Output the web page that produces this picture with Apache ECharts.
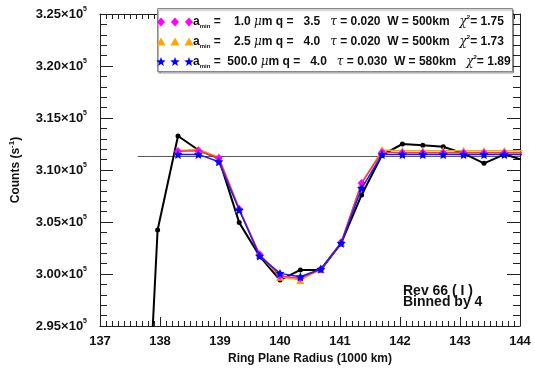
<!DOCTYPE html>
<html>
<head>
<meta charset="utf-8">
<script src="https://cdn.jsdelivr.net/npm/echarts@6/dist/echarts.min.js"></script>
<style>
  html, body { margin: 0; padding: 0; background: #fff; }
  #chart { width: 535px; height: 371px; }
</style>
</head>
<body>
<div id="chart"></div>
<script>
// Ring plane radius of each bin (1000 km)
const radius = [137.62, 137.96, 138.30, 138.64, 138.98, 139.32, 139.66, 140.00, 140.34, 140.68,
                141.02, 141.36, 141.70, 142.04, 142.38, 142.72, 143.06, 143.40, 143.74, 144.08];

// Observed counts, binned by 4
const observed = [265000, 304230, 313270, 311920, 311120, 304940, 301730, 299420, 300390, 300390,
                  302960, 307600, 311440, 312500, 312370, 312240, 311600, 310640, 311510, 310900];

// Model profiles
const modelA = [null, null, 311800, 311850, 311150, 306250, 301900, 299800, 299600, 300450,
                303050, 308750, 311700, 311650, 311650, 311650, 311650, 311650, 311650, 311650];
const modelB = [null, null, 311860, 311990, 311220, 306310, 301830, 299740, 299420, 300450,
                303010, 308720, 311920, 311860, 311860, 311860, 311860, 311860, 311860, 311860];
const modelC = [null, null, 311500, 311500, 310800, 306150, 301730, 300060, 299740, 300480,
                302960, 308240, 311480, 311480, 311480, 311480, 311480, 311480, 311480, 311480];

// Unocculted baseline level
const baselineX = [137.63, 144.0];
const baselineY = [311300, 311300];

// Legend rows: [a_min, q, tau, W, chi2]
const legendRows = [
  ['   1.0', '  3.5', '0.020', '500', '1.75'],
  ['   2.5', '  4.0', '0.020', '500', '1.73'],
  [' 500.0', '  4.0', '0.030', '580', '1.89']
];
const legendColors = ['#ff00ff', '#ffa500', '#0000ff'];

const xMin = 137, xMax = 144, xStep = 1;
const yMin = 295000, yMax = 325000, yStep = 5000;

const STAR = 'path://M0,-10L2.9,-4L9.5,-3.1L4.7,1.5L5.9,8.1L0,5L-5.9,8.1L-4.7,1.5L-9.5,-3.1L-2.9,-4Z';
const FONT = 'Liberation Sans, Arial, Helvetica, sans-serif';

const pairs = (xs, ys) => xs.map((x, i) => [x, ys[i]]);

const chart = echarts.init(document.getElementById('chart'), null, { renderer: 'canvas' });

const tickStyle = { color: '#222', width: 1 };
function xAxisDef(pos, labels) {
  return {
    type: 'value', position: pos, min: xMin, max: xMax, interval: xStep,
    axisLine: { show: true, onZero: false, lineStyle: { color: '#222', width: 1 } },
    axisTick: { show: true, inside: true, length: 9, lineStyle: tickStyle },
    minorTick: { show: true, splitNumber: 10, length: 5, lineStyle: tickStyle },
    splitLine: { show: false },
    axisLabel: labels ? { show: true, color: '#111', fontFamily: FONT, fontWeight: 'bold', fontSize: 13, margin: 9 } : { show: false },
    name: labels ? 'Ring Plane Radius (1000 km)' : '',
    nameLocation: 'middle', nameGap: 26,
    nameTextStyle: { color: '#111', fontFamily: FONT, fontWeight: 'bold', fontSize: 12 }
  };
}
function yAxisDef(pos, labels) {
  return {
    type: 'value', position: pos, min: yMin, max: yMax, interval: yStep,
    axisLine: { show: true, onZero: false, lineStyle: { color: '#222', width: 1 } },
    axisTick: { show: true, inside: true, length: 13, lineStyle: tickStyle },
    minorTick: { show: true, splitNumber: 5, length: 7, lineStyle: tickStyle },
    splitLine: { show: false },
    axisLabel: labels ? {
      show: true, margin: 13,
      formatter: v => '{m|' + (v / 1e5).toFixed(2) + '×10}{s|5}',
      rich: {
        m: { color: '#111', fontFamily: FONT, fontWeight: 'bold', fontSize: 13 },
        s: { color: '#111', fontFamily: FONT, fontWeight: 'bold', fontSize: 7, verticalAlign: 'top', padding: [0, 0, 9, 0] }
      }
    } : { show: false },
    name: labels ? '{t|Counts (s}{s|-1}{t|)}' : '',
    nameLocation: 'middle', nameGap: 76, nameRotate: 90,
    nameTextStyle: {
      rich: {
        t: { color: '#111', fontFamily: FONT, fontWeight: 'bold', fontSize: 12 },
        s: { color: '#111', fontFamily: FONT, fontWeight: 'bold', fontSize: 8, padding: [0, 0, 8, 0] }
      }
    }
  };
}

// Legend box built from text rows
const legendGraphics = [];
legendGraphics.push({
  type: 'rect', left: 157, top: 8, z: 100,
  shape: { width: 355, height: 63 },
  style: { fill: '#fff', stroke: '#888', lineWidth: 1, shadowColor: 'rgba(0,0,0,0.35)', shadowOffsetX: 1, shadowOffsetY: 1.5, shadowBlur: 1 }
});
const symShapes = ['diamond', 'triangle', 'star'];
legendRows.forEach((r, i) => {
  const cy = 22 + i * 20;
  for (let k = 0; k < 3; k++) {
    const cx = 161 + k * 14;
    let el;
    if (symShapes[i] === 'diamond') {
      el = { type: 'polygon', shape: { points: [[cx, cy - 4.5], [cx + 4, cy], [cx, cy + 4.5], [cx - 4, cy]] } };
    } else if (symShapes[i] === 'triangle') {
      el = { type: 'polygon', shape: { points: [[cx, cy - 4.5], [cx + 4.5, cy + 3.5], [cx - 4.5, cy + 3.5]] } };
    } else {
      const pts = [];
      for (let j = 0; j < 10; j++) {
        const a = -Math.PI / 2 + j * Math.PI / 5;
        const rr = j % 2 === 0 ? 5 : 2.1;
        pts.push([cx + rr * Math.cos(a), cy + rr * Math.sin(a)]);
      }
      el = { type: 'polygon', shape: { points: pts } };
    }
    el.z = 101;
    el.style = { fill: legendColors[i] };
    legendGraphics.push(el);
  }
  legendGraphics.push({
    type: 'text', left: 193, top: cy - 8, z: 101,
    style: {
      text: '{b|a}{sb|min}{b| = ' + r[0] + ' }{g|μ}{b|m q = ' + r[1] + '   }{g|τ}{b| = ' + r[2] +
            '  W = ' + r[3] + 'km   }{g|χ}{sp|2}{b|= ' + r[4] + '}',
      rich: {
        b: { fontFamily: FONT, fontWeight: 'bold', fontSize: 12, fill: '#111', height: 15 },
        g: { fontFamily: 'DejaVu Serif, serif', fontStyle: 'italic', fontSize: 12, fill: '#111', height: 15 },
        sb: { fontFamily: FONT, fontWeight: 'bold', fontSize: 6, fill: '#111', verticalAlign: 'bottom', padding: [7, 0, 0, 0] },
        sp: { fontFamily: FONT, fontWeight: 'bold', fontSize: 6, fill: '#111', verticalAlign: 'top', padding: [0, 0, 7, 0] }
      }
    }
  });
});

const option = {
  animation: false,
  backgroundColor: '#fff',
  grid: { left: 97, right: 15, top: 14, bottom: 45 },
  xAxis: [xAxisDef('bottom', true), xAxisDef('top', false)],
  yAxis: [yAxisDef('left', true), yAxisDef('right', false)],
  series: [
    {
      type: 'line', data: pairs(baselineX, baselineY), showSymbol: false, symbol: 'none',
      lineStyle: { color: '#555', width: 1 }, z: 1
    },
    {
      type: 'line', data: pairs(radius, observed), clip: true,
      symbol: 'circle', symbolSize: 5, itemStyle: { color: '#000' },
      lineStyle: { color: '#000', width: 2 }, z: 2
    },
    {
      type: 'line', data: pairs(radius, modelB), connectNulls: false,
      symbol: 'triangle', symbolSize: 8, itemStyle: { color: '#ffa500' },
      lineStyle: { color: '#ffa500', width: 1.5 }, z: 3
    },
    {
      type: 'line', data: pairs(radius, modelA),
      symbol: 'diamond', symbolSize: 8, itemStyle: { color: '#ff00ff' },
      lineStyle: { color: '#ff2f5f', width: 1.5 }, z: 4
    },
    {
      type: 'line', data: pairs(radius, modelC),
      symbol: STAR, symbolSize: 9, itemStyle: { color: '#0000ff' },
      lineStyle: { color: '#1a1aff', width: 1.5 }, z: 5
    }
  ],
  graphic: legendGraphics.concat([
    {
      type: 'text', left: 403, top: 284, z: 50,
      style: { text: 'Rev 66 ( I )', fontFamily: FONT, fontWeight: 'bold', fontSize: 14, fill: '#111' }
    },
    {
      type: 'text', left: 403, top: 295, z: 50,
      style: { text: 'Binned by 4', fontFamily: FONT, fontWeight: 'bold', fontSize: 14, fill: '#111' }
    }
  ])
};
chart.setOption(option);
</script>
</body>
</html>
